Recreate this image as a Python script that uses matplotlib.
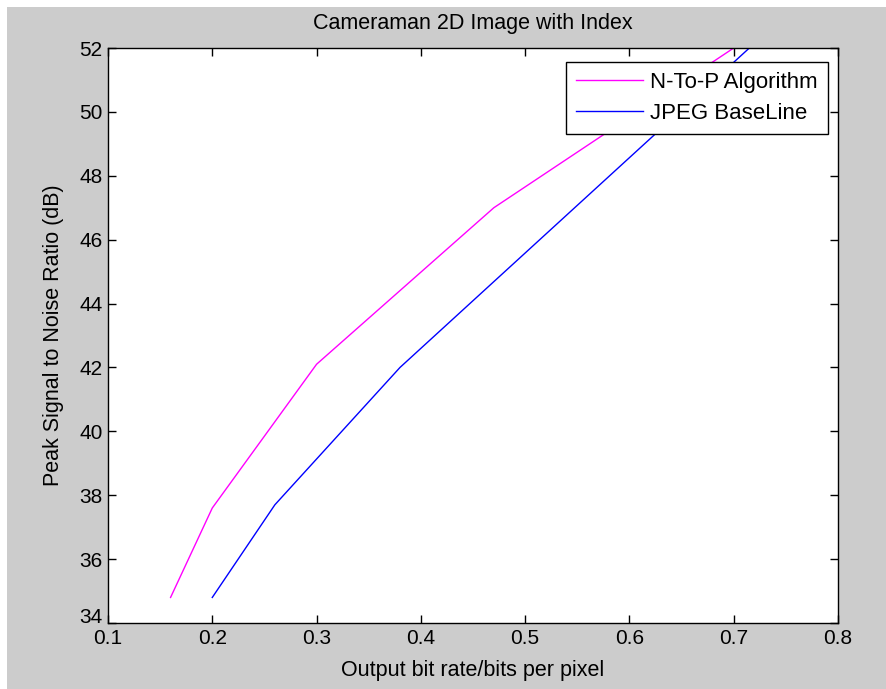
import matplotlib
matplotlib.use("Agg")
import matplotlib.pyplot as plt
from matplotlib.patches import Rectangle

plt.rcParams['font.family'] = ['Liberation Sans', 'DejaVu Sans']

# data
npa_x = [0.16, 0.2, 0.3, 0.47, 0.7]
npa_y = [34.8, 37.6, 42.1, 47.0, 52.0]
jpeg_x = [0.2, 0.26, 0.38, 0.715]
jpeg_y = [34.8, 37.7, 42.0, 52.0]
x_ticks = [0.1, 0.2, 0.3, 0.4, 0.5, 0.6, 0.7, 0.8]
y_ticks = [34, 36, 38, 40, 42, 44, 46, 48, 50, 52]

fig = plt.figure(figsize=(8.86, 6.89), dpi=100)
fig.patch.set_facecolor("white")
fig.patches.append(Rectangle((7/886, 0), 1, 1 - 7/689, transform=fig.transFigure,
                             facecolor="#cccccc", edgecolor="none", zorder=-10))

ax = fig.add_axes([108/886, 66/689, 730/886, 575/689])
ax.plot(npa_x, npa_y, color="#ff00ff", lw=1, label="N-To-P Algorithm")
ax.plot(jpeg_x, jpeg_y, color="#0000ff", lw=1, label="JPEG BaseLine")

ax.set_xlim(0.1, 0.8)
ax.set_ylim(34, 52)
ax.set_xticks(x_ticks)
ax.set_yticks(y_ticks)
ax.set_xticklabels([str(t) for t in x_ticks])
ax.tick_params(direction="in", top=True, right=True, length=6, width=1,
               labelsize=15, pad=4)
ax.get_yticklabels()[0].set_va("baseline")
for s in ax.spines.values():
    s.set_linewidth(1)

ax.set_title("Cameraman 2D Image with Index", fontsize=15.5, pad=14)
ax.set_xlabel("Output bit rate/bits per pixel", fontsize=15.5, labelpad=9)
ax.set_ylabel("Peak Signal to Noise Ratio (dB)", fontsize=15.5, labelpad=11)

leg = ax.legend(loc="upper right", bbox_to_anchor=(0.9863, 0.9757), fontsize=16,
                fancybox=False, framealpha=1, edgecolor="black",
                handlelength=3.0, handletextpad=0.35, borderpad=0.45,
                labelspacing=0.45, borderaxespad=0)
leg.get_frame().set_linewidth(1)

fig.savefig("out.png", dpi=100)
